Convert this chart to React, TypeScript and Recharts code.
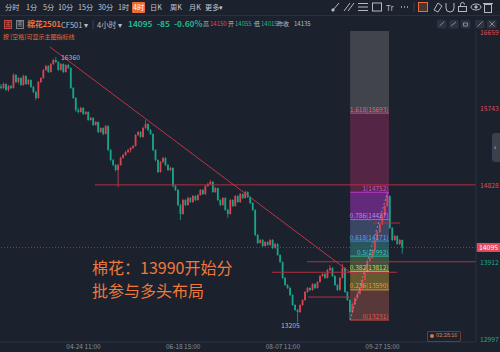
import React from 'react';
import { ComposedChart, Bar, XAxis, YAxis, ReferenceLine, ReferenceArea, ReferenceDot } from 'recharts';

// [open, high, low, close] per 4h bar
const candles: number[][] = [
  [16010, 16040, 15975, 15993], [15993, 16060, 15980, 16040], [16040, 16050, 15955, 15969], [15969, 16030, 15950, 16016],
  [16016, 16030, 15980, 15993], [15993, 16170, 15985, 16147], [16147, 16160, 16050, 16064], [16064, 16125, 16045, 16112],
  [16112, 16120, 16015, 16028], [16028, 16150, 16020, 16135], [16135, 16145, 16030, 16040], [16040, 16100, 16025, 16088],
  [16088, 16095, 15990, 16005], [16005, 16020, 15930, 15945], [15945, 15960, 15850, 15874], [15874, 16075, 15865, 16064],
  [16064, 16120, 16050, 16112], [16112, 16220, 16100, 16207], [16207, 16270, 16195, 16254], [16254, 16265, 16170, 16183],
  [16183, 16290, 16175, 16278], [16278, 16340, 16265, 16326], [16326, 16360, 16290, 16302], [16302, 16315, 16195, 16207],
  [16207, 16290, 16200, 16278], [16278, 16285, 16170, 16183], [16183, 16275, 16175, 16266], [16266, 16280, 16220, 16231],
  [16231, 16240, 15980, 15993], [15993, 16005, 15860, 15874], [15874, 15885, 15710, 15731], [15731, 15760, 15690, 15707],
  [15707, 15770, 15700, 15755], [15755, 15765, 15670, 15683], [15683, 15720, 15675, 15707], [15707, 15715, 15600, 15612],
  [15612, 15650, 15605, 15636], [15636, 15645, 15540, 15552], [15552, 15600, 15545, 15588], [15588, 15595, 15455, 15469],
  [15469, 15525, 15460, 15517], [15517, 15525, 15430, 15445], [15445, 15555, 15440, 15540], [15540, 15550, 15240, 15255],
  [15255, 15270, 15120, 15136], [15136, 15150, 15060, 15076], [15076, 15090, 15000, 15017], [15017, 15090, 14815, 15076],
  [15076, 15175, 15065, 15160], [15160, 15210, 15150, 15195], [15195, 15245, 15185, 15231], [15231, 15270, 15220, 15255],
  [15255, 15290, 15225, 15279], [15279, 15315, 15265, 15302], [15302, 15445, 15295, 15433], [15433, 15480, 15420, 15469],
  [15469, 15480, 15400, 15410], [15410, 15530, 15400, 15517], [15517, 15612, 15505, 15564], [15564, 15575, 15480, 15493],
  [15493, 15505, 15435, 15445], [15445, 15455, 15240, 15255], [15255, 15265, 15120, 15136], [15136, 15145, 14980, 14993],
  [14993, 15125, 14985, 15112], [15112, 15175, 15100, 15160], [15160, 15170, 15060, 15076], [15076, 15090, 15005, 15017],
  [15017, 15055, 15000, 15041], [15041, 15050, 14810, 14826], [14826, 14840, 14765, 14779], [14779, 14790, 14585, 14600],
  [14600, 14615, 14422, 14493], [14493, 14675, 14485, 14660], [14660, 14670, 14585, 14600], [14600, 14700, 14590, 14684],
  [14684, 14695, 14625, 14636], [14636, 14720, 14625, 14707], [14707, 14715, 14645, 14660], [14660, 14730, 14650, 14719],
  [14719, 14790, 14710, 14779], [14779, 14790, 14720, 14731], [14731, 14840, 14720, 14826], [14826, 14865, 14815, 14850],
  [14850, 14898, 14840, 14874], [14874, 14885, 14745, 14755], [14755, 14815, 14745, 14803], [14803, 14810, 14645, 14660],
  [14660, 14670, 14585, 14600], [14600, 14695, 14590, 14684], [14684, 14695, 14530, 14541], [14541, 14555, 14446, 14493],
  [14493, 14675, 14485, 14660], [14660, 14670, 14575, 14588], [14588, 14720, 14580, 14707], [14707, 14715, 14625, 14636],
  [14636, 14745, 14625, 14731], [14731, 14740, 14670, 14684], [14684, 14770, 14675, 14755], [14755, 14765, 14685, 14696],
  [14696, 14705, 14610, 14624], [14624, 14635, 14530, 14541], [14541, 14550, 14230, 14243], [14243, 14255, 14135, 14148],
  [14148, 14195, 14140, 14184], [14184, 14195, 14100, 14112], [14112, 14170, 14105, 14160], [14160, 14170, 14115, 14124],
  [14124, 14195, 14115, 14184], [14184, 14195, 14075, 14089], [14089, 14150, 14080, 14136], [14136, 14145, 13995, 14005],
  [14005, 14015, 13910, 13922], [13922, 13930, 13720, 13732], [13732, 13745, 13635, 13648], [13648, 13660, 13600, 13613],
  [13613, 13625, 13515, 13529], [13529, 13540, 13400, 13410], [13410, 13420, 13340, 13351], [13351, 13365, 13205, 13327],
  [13327, 13420, 13315, 13410], [13410, 13480, 13400, 13470], [13470, 13580, 13460, 13565], [13565, 13625, 13555, 13613],
  [13613, 13620, 13575, 13589], [13589, 13670, 13580, 13660], [13660, 13670, 13600, 13613], [13613, 13695, 13605, 13684],
  [13684, 13765, 13675, 13755], [13755, 13790, 13745, 13779], [13779, 13790, 13720, 13732], [13732, 13840, 13725, 13827],
  [13827, 13886, 13815, 13851], [13851, 13860, 13745, 13755], [13755, 13765, 13635, 13648], [13648, 13660, 13575, 13589],
  [13589, 13745, 13580, 13732], [13732, 13900, 13725, 13851], [13851, 13860, 13555, 13565], [13565, 13575, 13460, 13470],
  [13470, 13480, 13231, 13327], [13327, 13435, 13315, 13422], [13422, 13505, 13410, 13494], [13494, 13555, 13480, 13541],
  [13541, 13625, 13530, 13613], [13613, 13720, 13600, 13708], [13708, 13815, 13695, 13803], [13803, 13935, 13790, 13922],
  [13922, 13985, 13910, 13970], [13970, 14075, 13960, 14065], [14065, 14195, 14055, 14184], [14184, 14290, 14170, 14279],
  [14279, 14385, 14265, 14374], [14374, 14495, 14360, 14481], [14481, 14600, 14470, 14588], [14588, 14752, 14580, 14707],
  [14707, 14715, 14315, 14327], [14327, 14340, 14170, 14184], [14184, 14245, 14175, 14231], [14231, 14240, 14125, 14136],
  [14136, 14195, 14125, 14184], [14184, 14190, 14020, 14095],
];

const timeTicks = [33, 73, 113, 153];
const timeLabels = ['04-24 11:00', '06-18 15:00', '08-07 11:00', '09-27 15:00'];
const priceTicks = [16659, 15743, 14828, 13912, 12997];
const lastPrice = 14095;
const peakPrice = 16360;
const troughPrice = 13205;

const fibLevels = ['0', '0.236', '0.382', '0.5', '0.618', '0.786', '1', '1.618'];
const fibPrices = [13231, 13590, 13812, 13992, 14171, 14427, 14752, 15693];
const fibLine = ['#d04848', '#e08a30', '#d8c838', '#30b0a0', '#3090d0', '#8070d0', '#c038c8', '#d0407a'];
const fibText = ['#e05858', '#f09838', '#e0d040', '#40c8b8', '#50a8e8', '#a890f0', '#d050d8', '#e06090'];
const fibFill = ['#b05949', '#caa733', '#6b9557', '#3aa0a0', '#6878b0', '#c838e8', '#a82a6a', '#7a7478'];

// drawn lines: [price, fromBar, toBar]
const hLines = [
  [14840, 37.6, 190.5],
  [13925, 122.7, 190.5],
  [13800, 108.6, 158.8],
  [13505, 123.1, 139.9],
  [14386, 149.2, 160.0],
];
const trendStart = [19.6, 16480];
const trendEnd = [142.0, 13755];

const BG = '#1b212d';
const UP = '#d9454f';
const DOWN = '#17a589';
const LINE = '#b3303f';
const FONT = '"Noto Sans CJK SC", "Noto Sans", sans-serif';

const data = candles.map(([o, h, l, c], i) => ({ i, o, h, l, c, range: [l, h] }));

const Candle = (props: any) => {
  let { x, y, width, height } = props;
  const { o, h, l, c } = props.payload;
  if (height < 0) { y += height; height = -height; }
  const cx = x + width / 2;
  const span = h - l || 1;
  const py = (p: number) => y + ((h - p) / span) * height;
  const color = c >= o ? UP : DOWN;
  const top = py(Math.max(o, c));
  const bot = py(Math.min(o, c));
  return (
    <g>
      <line x1={cx} x2={cx} y1={y} y2={y + height} stroke={color} strokeWidth={0.8} />
      <rect x={cx - 0.9} y={top} width={1.8} height={Math.max(bot - top, 0.8)} fill={color} />
    </g>
  );
};

const T = ({ x, y, size = 7.5, color = '#c4c8d0', weight = 400, ls = 0, children }: any) => (
  <div style={{ position: 'absolute', left: x, top: y - size * 0.6, fontSize: size, lineHeight: 1.2, color, fontWeight: weight, letterSpacing: ls, whiteSpace: 'nowrap', fontFamily: FONT }}>
    {children}
  </div>
);

const tabs = ['分时', '1分', '5分', '10分', '15分', '30分', '1时', '4时', '日K', '周K', '月K', '更多▾'];
const tabX = [5, 26, 43, 58, 78, 98, 118, 133, 150, 170, 189, 205];

const Icons = () => {
  const s = '#b4b8c0';
  return (
    <svg width={500} height={32} style={{ position: 'absolute', left: 0, top: 0 }}>
      <g stroke={s} strokeWidth={1} fill="none">
        <line x1={332} y1={11} x2={339} y2={3} /><circle cx={333} cy={10} r={1.2} fill={s} />
        <line x1={344} y1={11} x2={350} y2={3} /><line x1={348} y1={11} x2={354} y2={3} />
        <line x1={358} y1={3.5} x2={368} y2={3.5} /><line x1={358} y1={7} x2={368} y2={7} /><line x1={358} y1={10.5} x2={368} y2={10.5} />
        <rect x={372.5} y={3} width={9} height={8} />
        <line x1={401} y1={7} x2={409} y2={7} strokeDasharray="1 2" strokeWidth={1.5} />
        <line x1={414} y1={2} x2={414} y2={12} stroke="#3a4150" />
        <rect x={418.5} y={2.5} width={9} height={9} stroke="#e8703a" fill="#e8703a" fillOpacity={0.25} />
        <path d="M434 10 L438 3 L442 6 L438 12 Z" />
        <path d="M446 3 L446 8 A4 4 0 0 0 454 8 L454 3" />
        <rect x={458.5} y={6.5} width={8} height={5} /><path d="M460.5 6.5 V4.5 A2 2 0 0 1 464.5 4.5" />
        <ellipse cx={476} cy={7} rx={5} ry={3} /><circle cx={476} cy={7} r={1.2} fill={s} />
        <rect x={484.5} y={4.5} width={7} height={8} /><line x1={483} y1={3.5} x2={493} y2={3.5} />
      </g>
      <text x={386} y={10.5} fill={s} fontSize={8} fontFamily={FONT}>Tr</text>
      {[437, 449, 461, 475, 487].map((bx) => (
        <rect key={bx} x={bx} y={20} width={9.5} height={8.5} rx={1.5} fill="#2c3240" />
      ))}
      <g stroke="#9aa0aa" strokeWidth={0.8} fill="none">
        <path d="M439.5 26 L444 22" /><path d="M451 26 L456 22" /><path d="M463.5 23 h4 v3 h-4z" />
        <path d="M477.5 26.5 L482.5 21.5" /><path d="M489.5 21.5 L494.5 26.5 M494.5 21.5 L489.5 26.5" />
      </g>
    </svg>
  );
};

export default function App() {
  return (
    <div style={{ position: 'absolute', left: 0, top: 0, width: 500, height: 352, background: BG, overflow: 'hidden', fontFamily: FONT }}>
      <ComposedChart width={500} height={352} data={data} margin={{ top: 31, right: 0, bottom: 0, left: 0 }}>
        <XAxis
          dataKey="i" type="number" domain={[-0.5, 190.5]} ticks={timeTicks} height={10}
          axisLine={{ stroke: '#2b3242' }} tickLine={false} allowDataOverflow
          tick={({ x, payload }: any) => (
            <text x={x} y={349} textAnchor="middle" fill="#8b919c" fontSize={6.5} fontFamily={FONT}>
              {timeLabels[timeTicks.indexOf(payload.value)]}
            </text>
          )}
        />
        <YAxis
          orientation="right" width={24} domain={[12970, 16671]} ticks={priceTicks} allowDataOverflow
          axisLine={{ stroke: '#2b3242' }} tickLine={false}
          tick={({ y, payload }: any) => (
            <text x={480} y={y + 2.5} fill={payload.value > lastPrice ? '#d9505e' : '#1fa98b'} fontSize={6.8} fontFamily={FONT}>
              {payload.value}
            </text>
          )}
        />
        {fibPrices.map((p, k) => (
          <ReferenceArea key={'a' + k} x1={140} x2={155.6} y1={p} y2={k < fibPrices.length - 1 ? fibPrices[k + 1] : 16671}
            fill={fibFill[k]} fillOpacity={0.42} stroke="none" ifOverflow="visible" />
        ))}
        <ReferenceLine y={lastPrice} stroke="#8a3a48" strokeDasharray="1 2"
          label={({ viewBox }: any) => (
            <g>
              <rect x={viewBox.x + viewBox.width + 0.5} y={viewBox.y - 4.5} width={24} height={9} fill="#e24c5a" />
              <text x={viewBox.x + viewBox.width + 12.5} y={viewBox.y + 2.5} textAnchor="middle" fill="#ffffff" fontSize={6.8} fontFamily={FONT}>{lastPrice}</text>
            </g>
          )}
        />
        <Bar dataKey="range" barSize={2} isAnimationActive={false} shape={(p: any) => <Candle {...p} />} />
        {hLines.map(([p, a, b], k) => (
          <ReferenceLine key={'h' + k} segment={[{ x: a, y: p }, { x: b, y: p }]} stroke={LINE} strokeWidth={1} />
        ))}
        <ReferenceLine segment={[{ x: trendStart[0], y: trendStart[1] }, { x: trendEnd[0], y: trendEnd[1] }]} stroke="#c03548" strokeWidth={1} />
        <ReferenceLine segment={[{ x: 140, y: fibPrices[0] }, { x: 155, y: fibPrices[6] }]} stroke="#7fa0e0" strokeDasharray="2 2" strokeWidth={0.8} />
        {fibPrices.map((p, k) => (
          <ReferenceLine key={'f' + k} segment={[{ x: 140, y: p }, { x: 155.6, y: p }]} stroke={fibLine[k]} strokeWidth={1}
            label={({ viewBox }: any) => (
              <text x={viewBox.x + viewBox.width - 0.5} y={viewBox.y - 1.5} textAnchor="end" fill={fibText[k]} fontSize={6.5} fontFamily={FONT}>
                {`${fibLevels[k]}(${p})`}
              </text>
            )}
          />
        ))}
        <ReferenceDot x={22} y={peakPrice} r={0} stroke="none"
          label={({ viewBox }: any) => (
            <text x={viewBox.x + 5} y={viewBox.y + 2.5} fill="#b8bcc6" fontSize={6.8} fontFamily={FONT}>{peakPrice}</text>
          )}
        />
        <ReferenceDot x={119} y={troughPrice} r={0} stroke="none"
          label={({ viewBox }: any) => (
            <text x={viewBox.x + 2} y={viewBox.y + 5.5} textAnchor="end" fill="#b8bcc6" fontSize={6.8} fontFamily={FONT}>{troughPrice}</text>
          )}
        />
      </ComposedChart>

      {/* header */}
      <div style={{ position: 'absolute', left: 0, top: 15, width: 500, height: 1, background: '#2a303d' }} />
      <div style={{ position: 'absolute', left: 132, top: 2, width: 13, height: 11, background: '#f06a34', borderRadius: 1 }} />
      {tabs.map((t, k) => (
        <T key={t} x={tabX[k]} y={7.5} size={7.2} color={t === '4时' ? '#ffffff' : '#c4c8d0'}>{t}</T>
      ))}
      <Icons />

      <div style={{ position: 'absolute', left: 4, top: 20, width: 6, height: 7, border: '0.8px solid #c84a40', background: '#5a2a2e', color: '#e05a48', fontSize: 5.5, lineHeight: '7px', textAlign: 'center' }}>主</div>
      <div style={{ position: 'absolute', left: 16, top: 20, width: 6, height: 7, border: '0.8px solid #7a7f88', color: '#9aa0aa', fontSize: 5.5, lineHeight: '7px', textAlign: 'center' }}>图</div>
      <T x={27} y={24} size={8} color="#f0703c" weight={700} ls={-0.2}>棉花2501</T>
      <T x={61} y={24} size={7.5} color="#b8bcc4">CF501 ▾</T>
      <T x={92} y={24} size={8} color="#5a606c">|</T>
      <T x={97} y={24} size={7.5} color="#b8bcc4">4小时 ▾</T>
      <T x={128} y={24} size={8.3} color="#22b58f" weight={700}>14095</T>
      <T x={157} y={24} size={8.3} color="#22b58f" weight={700}>-85</T>
      <T x={174} y={24} size={8.3} color="#22b58f" weight={700}>-0.60%</T>
      <T x={203} y={24} size={6} color="#b8bcc4">高</T>
      <T x={210} y={24} size={6} color="#d9505e">14150</T>
      <T x={228} y={24} size={6} color="#b8bcc4">开</T>
      <T x={235} y={24} size={6} color="#22b58f">14055</T>
      <T x={254} y={24} size={6} color="#b8bcc4">低</T>
      <T x={261} y={24} size={6} color="#22b58f">14015</T>
      <T x={277} y={24} size={6} color="#b8bcc4">昨收</T>
      <T x={294} y={24} size={6} color="#b8bcc4">14135</T>
      <T x={3} y={37} size={6} color="#e0703a">按 [空格]可显示主图指标线</T>

      {/* annotation */}
      <T x={92} y={268} size={16} color="#f0783a">棉花：13990开始分</T>
      <T x={92} y={291} size={16} color="#f0783a">批参与多头布局</T>

      {/* countdown + side handle */}
      <div style={{ position: 'absolute', left: 427, top: 331, width: 32, height: 9, border: '0.8px solid #6b3a30', borderRadius: 1 }} />
      <div style={{ position: 'absolute', left: 430, top: 334, width: 4, height: 4, borderRadius: 2, background: '#e8703a' }} />
      <T x={436} y={335.5} size={5.5} color="#e08050">02:28:16</T>
      <div style={{ position: 'absolute', left: 492, top: 133, width: 10, height: 29, background: '#3a404c', borderRadius: 3 }} />
      <T x={494} y={147} size={8} color="#c4c8d0">‹</T>
    </div>
  );
}
